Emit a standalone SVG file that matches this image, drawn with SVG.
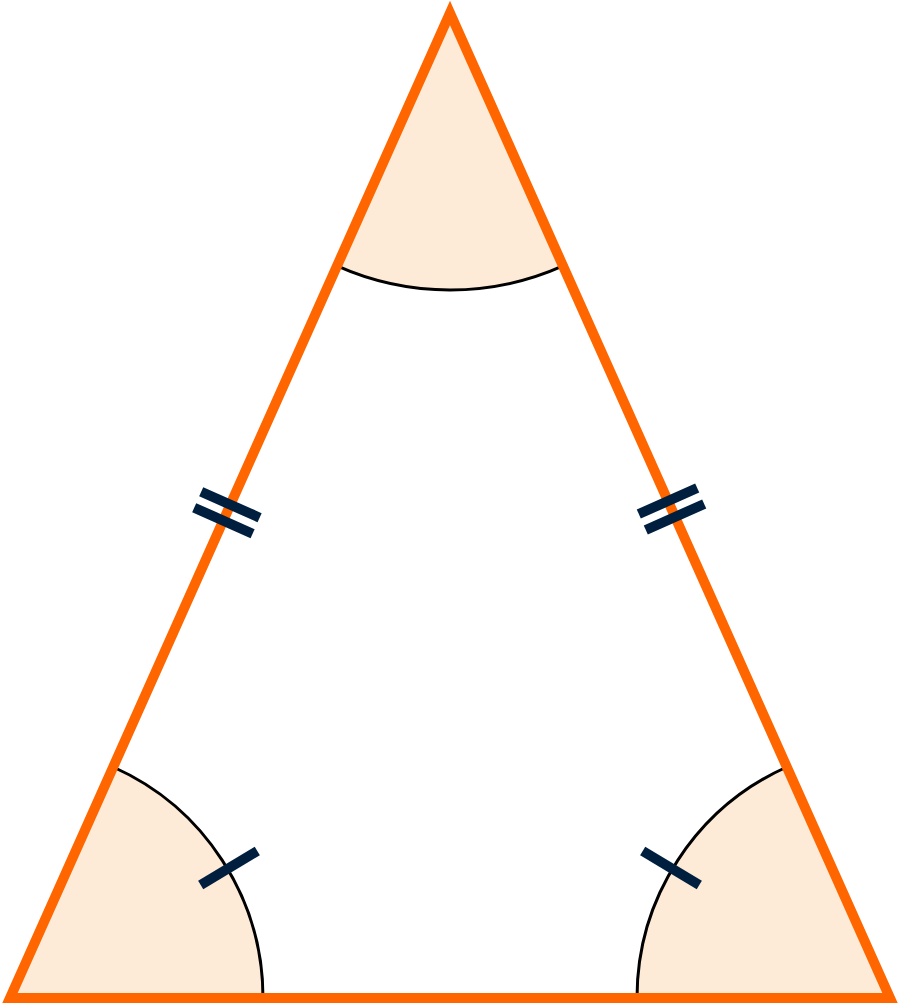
<svg xmlns="http://www.w3.org/2000/svg" width="900" height="1005" viewBox="0 0 900 1005">
  <style>
    .sector { fill: #FDEBD7; stroke: none; }
    .arc { fill: none; stroke: #000000; stroke-width: 3; }
    .edge { fill: none; stroke: #FF6600; stroke-width: 10; stroke-linejoin: miter; }
    .tick { stroke: #001F3F; stroke-width: 10; stroke-linecap: butt; }
  </style>
  <rect x="0" y="0" width="900" height="1005" fill="#FFFFFF"/>
  <g id="angle-top">
    <path class="sector" d="M450,13 L337,265.9 A277,277 0 0 0 563,265.9 Z"/>
    <path class="arc" d="M337,265.9 A277,277 0 0 0 563,265.9"/>
  </g>
  <g id="angle-left">
    <path class="sector" d="M10,998 L263,998 A253,253 0 0 0 113.2,767 Z"/>
    <path class="arc" d="M263,998 A253,253 0 0 0 113.2,767"/>
  </g>
  <g id="angle-right">
    <path class="sector" d="M890,998 L637,998 A253,253 0 0 1 786.8,767 Z"/>
    <path class="arc" d="M637,998 A253,253 0 0 1 786.8,767"/>
  </g>
  <g id="triangle">
    <polygon class="edge" points="450,13 890,998 10,998"/>
  </g>
  <g id="ticks">
    <line class="tick" x1="201.2" y1="491.7" x2="259.6" y2="517.7"/>
    <line class="tick" x1="194.2" y1="507.7" x2="252.6" y2="533.7"/>
    <line class="tick" x1="638.8" y1="514" x2="697.2" y2="488"/>
    <line class="tick" x1="645.8" y1="530" x2="704.2" y2="504"/>
    <line class="tick" x1="200.7" y1="885" x2="257.3" y2="851"/>
    <line class="tick" x1="642.7" y1="851" x2="699.3" y2="885"/>
  </g>
</svg>
